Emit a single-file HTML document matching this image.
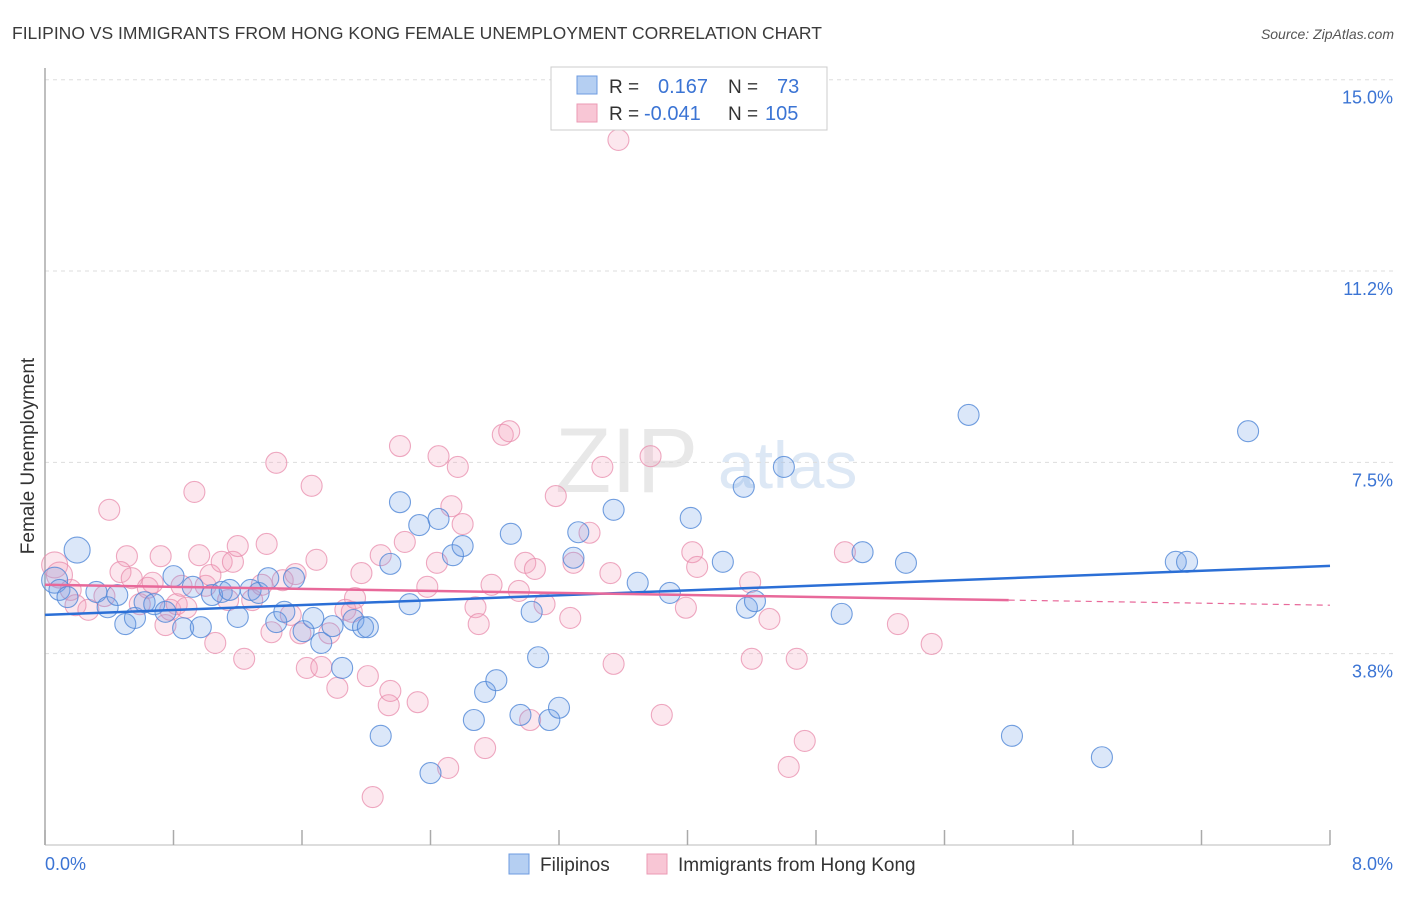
<!DOCTYPE html>
<html><head><meta charset="utf-8"><style>
body{margin:0;background:#fff;font-family:"Liberation Sans",sans-serif;}
svg text{font-family:"Liberation Sans",sans-serif;}
</style></head><body>
<svg id="chart" width="1406" height="892">
<text x="12" y="39" font-size="17.5" fill="#3a3a3a">FILIPINO VS IMMIGRANTS FROM HONG KONG FEMALE UNEMPLOYMENT CORRELATION CHART</text>
<text x="1394" y="39" font-size="14" fill="#555" font-style="italic" text-anchor="end">Source: ZipAtlas.com</text>
<text x="555" y="492" font-size="92" fill="#e8e8e8" font-family="Liberation Serif">ZIP</text>
<text x="718" y="488" font-size="66" fill="#dde8f5">atlas</text>
<g id="grid"></g>
<g id="pts"></g>
<g id="trends"></g>
<text transform="translate(34,456) rotate(-90)" font-size="19" fill="#333" text-anchor="middle">Female Unemployment</text>
<g>
<rect x="551" y="67" width="276" height="63" fill="#fff" stroke="#ccc"/>
<rect x="577" y="76" width="20" height="18" fill="#b5cff2" stroke="#6d9be0"/>
<rect x="577" y="104" width="20" height="18" fill="#f8c6d5" stroke="#eb9ab4"/>
<text x="609" y="93" font-size="19" fill="#333">R =</text>
<text x="658" y="93" font-size="20" fill="#3b74d4">0.167</text>
<text x="728" y="93" font-size="19" fill="#333">N =</text>
<text x="777" y="93" font-size="20" fill="#3b74d4">73</text>
<text x="609" y="120" font-size="19" fill="#333">R =</text>
<text x="644" y="120" font-size="20" fill="#3b74d4">-0.041</text>
<text x="728" y="120" font-size="19" fill="#333">N =</text>
<text x="765" y="120" font-size="20" fill="#3b74d4">105</text>
</g>
<g>
<rect x="509" y="854" width="20" height="20" fill="#b5cff2" stroke="#6d9be0"/>
<text x="540" y="871" font-size="19" fill="#333">Filipinos</text>
<rect x="647" y="854" width="20" height="20" fill="#f8c6d5" stroke="#eb9ab4"/>
<text x="678" y="871" font-size="19" fill="#333">Immigrants from Hong Kong</text>
</g>
</svg>
<script>
const yTicks=[15.0,11.2,7.5,3.8];
const yTickVals=[15,11.25,7.5,3.75];
const xTickLabels=["0.0%","8.0%"];
const blueX=[0.20,0.06,0.09,0.14,0.32,0.39,0.45,0.50,0.56,0.62,0.68,0.75,0.80,0.86,0.92,0.97,1.04,1.10,1.15,1.20,1.28,1.33,1.39,1.44,1.49,1.55,1.61,1.67,1.72,1.79,1.85,1.92,1.98,2.01,2.09,2.15,2.21,2.27,2.33,2.40,2.45,2.54,2.60,2.67,2.74,2.81,2.90,2.96,3.03,3.07,3.14,3.20,3.29,3.32,3.54,3.69,3.89,4.02,4.22,4.35,4.37,4.42,4.60,4.96,5.09,5.36,5.75,6.02,6.58,7.04,7.11,7.49];
const blueY=[5.78,5.19,5.00,4.86,4.96,4.66,4.90,4.33,4.45,4.76,4.72,4.57,5.27,4.25,5.06,4.27,4.90,4.96,5.00,4.47,5.00,4.94,5.23,4.37,4.57,5.23,4.19,4.45,3.96,4.29,3.47,4.41,4.27,4.27,2.14,5.51,6.72,4.72,6.27,1.41,6.39,5.68,5.86,2.45,3.00,3.23,6.10,2.55,4.57,3.68,2.45,2.69,5.63,6.13,6.57,5.14,4.94,6.41,5.55,7.02,4.65,4.78,7.41,4.53,5.74,5.53,8.43,2.14,1.72,5.55,5.55,8.11];
const pinkX=[0.06,0.09,0.16,0.19,0.27,0.37,0.40,0.51,0.47,0.54,0.59,0.64,0.67,0.72,0.75,0.78,0.82,0.85,0.88,0.93,0.96,1.00,1.03,1.06,1.10,1.14,1.17,1.20,1.24,1.29,1.35,1.38,1.41,1.44,1.48,1.53,1.56,1.59,1.63,1.66,1.69,1.72,1.77,1.82,1.87,1.91,1.93,1.97,2.01,2.04,2.09,2.14,2.15,2.21,2.24,2.32,2.38,2.45,2.44,2.51,2.53,2.57,2.60,2.68,2.70,2.74,2.78,2.85,2.89,2.95,2.99,3.02,3.05,3.11,3.18,3.27,3.29,3.39,3.47,3.52,3.54,3.57,3.77,3.84,3.99,4.03,4.06,4.39,4.40,4.51,4.63,4.68,4.73,4.98,5.31,5.52];
const pinkY=[5.49,5.29,5.00,4.70,4.61,4.88,6.57,5.66,5.35,5.23,4.72,5.04,5.14,5.66,4.31,4.61,4.72,5.08,4.65,6.92,5.68,5.08,5.29,3.96,5.55,4.80,5.55,5.86,3.65,4.80,5.10,5.90,4.17,7.49,5.19,4.51,5.31,4.15,3.47,7.04,5.59,3.49,4.15,3.08,4.61,4.57,4.84,5.33,3.31,0.94,5.68,2.74,3.02,7.82,5.94,2.80,5.06,7.62,5.53,1.51,6.64,7.41,6.29,4.66,4.33,1.90,5.10,8.04,8.11,4.98,5.53,2.45,5.41,4.72,6.84,4.45,5.53,6.12,7.41,5.33,3.55,13.82,7.62,2.55,4.65,5.74,5.45,5.15,3.65,4.43,1.53,3.65,2.04,5.74,4.33,3.94];
const blueTrend=[4.51,5.47];
const pinkTrend=[5.10,4.70];
const pinkSolidEnd=6.0;

const NS="http://www.w3.org/2000/svg";
const X=v=>45+v/8*1285;
const Y=v=>845-v*51.02;
function mk(t,a,p){const e=document.createElementNS(NS,t);for(const k in a)e.setAttribute(k,a[k]);p.appendChild(e);return e;}
const grid=document.getElementById('grid');
yTickVals.forEach((v,i)=>{
  const l=mk('line',{x1:45,x2:1395,y1:Y(v),y2:Y(v),stroke:'#ddd','stroke-dasharray':'4,4'},grid);
  
  
  const t=mk('text',{x:1393,y:Y(v)+24,'font-size':18,fill:'#3b74d4','text-anchor':'end'},grid);
  t.textContent=yTicks[i].toFixed(1)+'%';
  
  
});
const ax=mk('line',{x1:45,x2:45,y1:68,y2:845,stroke:'#aaa','stroke-width':1.5},grid);


const bx=mk('line',{x1:45,x2:1330,y1:845,y2:845,stroke:'#bbb'},grid);


for(let i=0;i<=10;i++){
  const t=mk('line',{x1:X(i*0.8),x2:X(i*0.8),y1:830,y2:845,stroke:'#aaa','stroke-width':1.5},grid);
  
  
}
[[0,'start',45],[8,'end',1393]].forEach((d,i)=>{
  const t=mk('text',{x:d[2],y:870,'font-size':18,fill:'#3b74d4','text-anchor':d[1]},grid);
  t.textContent=xTickLabels[i];
  
  
});
const pts=document.getElementById('pts');
function drawSeries(xs,ys,fill,stroke,name){
  xs.forEach((x,i)=>{
    const r=i<2?13:10.5;
    const c=mk('circle',{cx:X(x),cy:Y(ys[i]),r:r,fill:fill,stroke:stroke,'stroke-width':1.1},pts);
    
    
  });
}
drawSeries(pinkX,pinkY,'rgba(242,160,188,0.25)','rgba(232,140,172,0.75)','point-hong-kong');
drawSeries(blueX,blueY,'rgba(110,160,230,0.25)','rgba(80,135,215,0.8)','point-filipino');
const tr=document.getElementById('trends');
const b=mk('line',{x1:X(0),y1:Y(blueTrend[0]),x2:X(8),y2:Y(blueTrend[1]),stroke:'#2b6fd6','stroke-width':2.5},tr);


const pv=x=>pinkTrend[0]+(pinkTrend[1]-pinkTrend[0])*x/8;
const p1=mk('line',{x1:X(0),y1:Y(pv(0)),x2:X(pinkSolidEnd),y2:Y(pv(pinkSolidEnd)),stroke:'#e8699a','stroke-width':2.5},tr);


const p2=mk('line',{x1:X(pinkSolidEnd),y1:Y(pv(pinkSolidEnd)),x2:X(8),y2:Y(pv(8)),stroke:'#e8699a','stroke-width':1.2,'stroke-dasharray':'6,5'},tr);


</script>
</body></html>
